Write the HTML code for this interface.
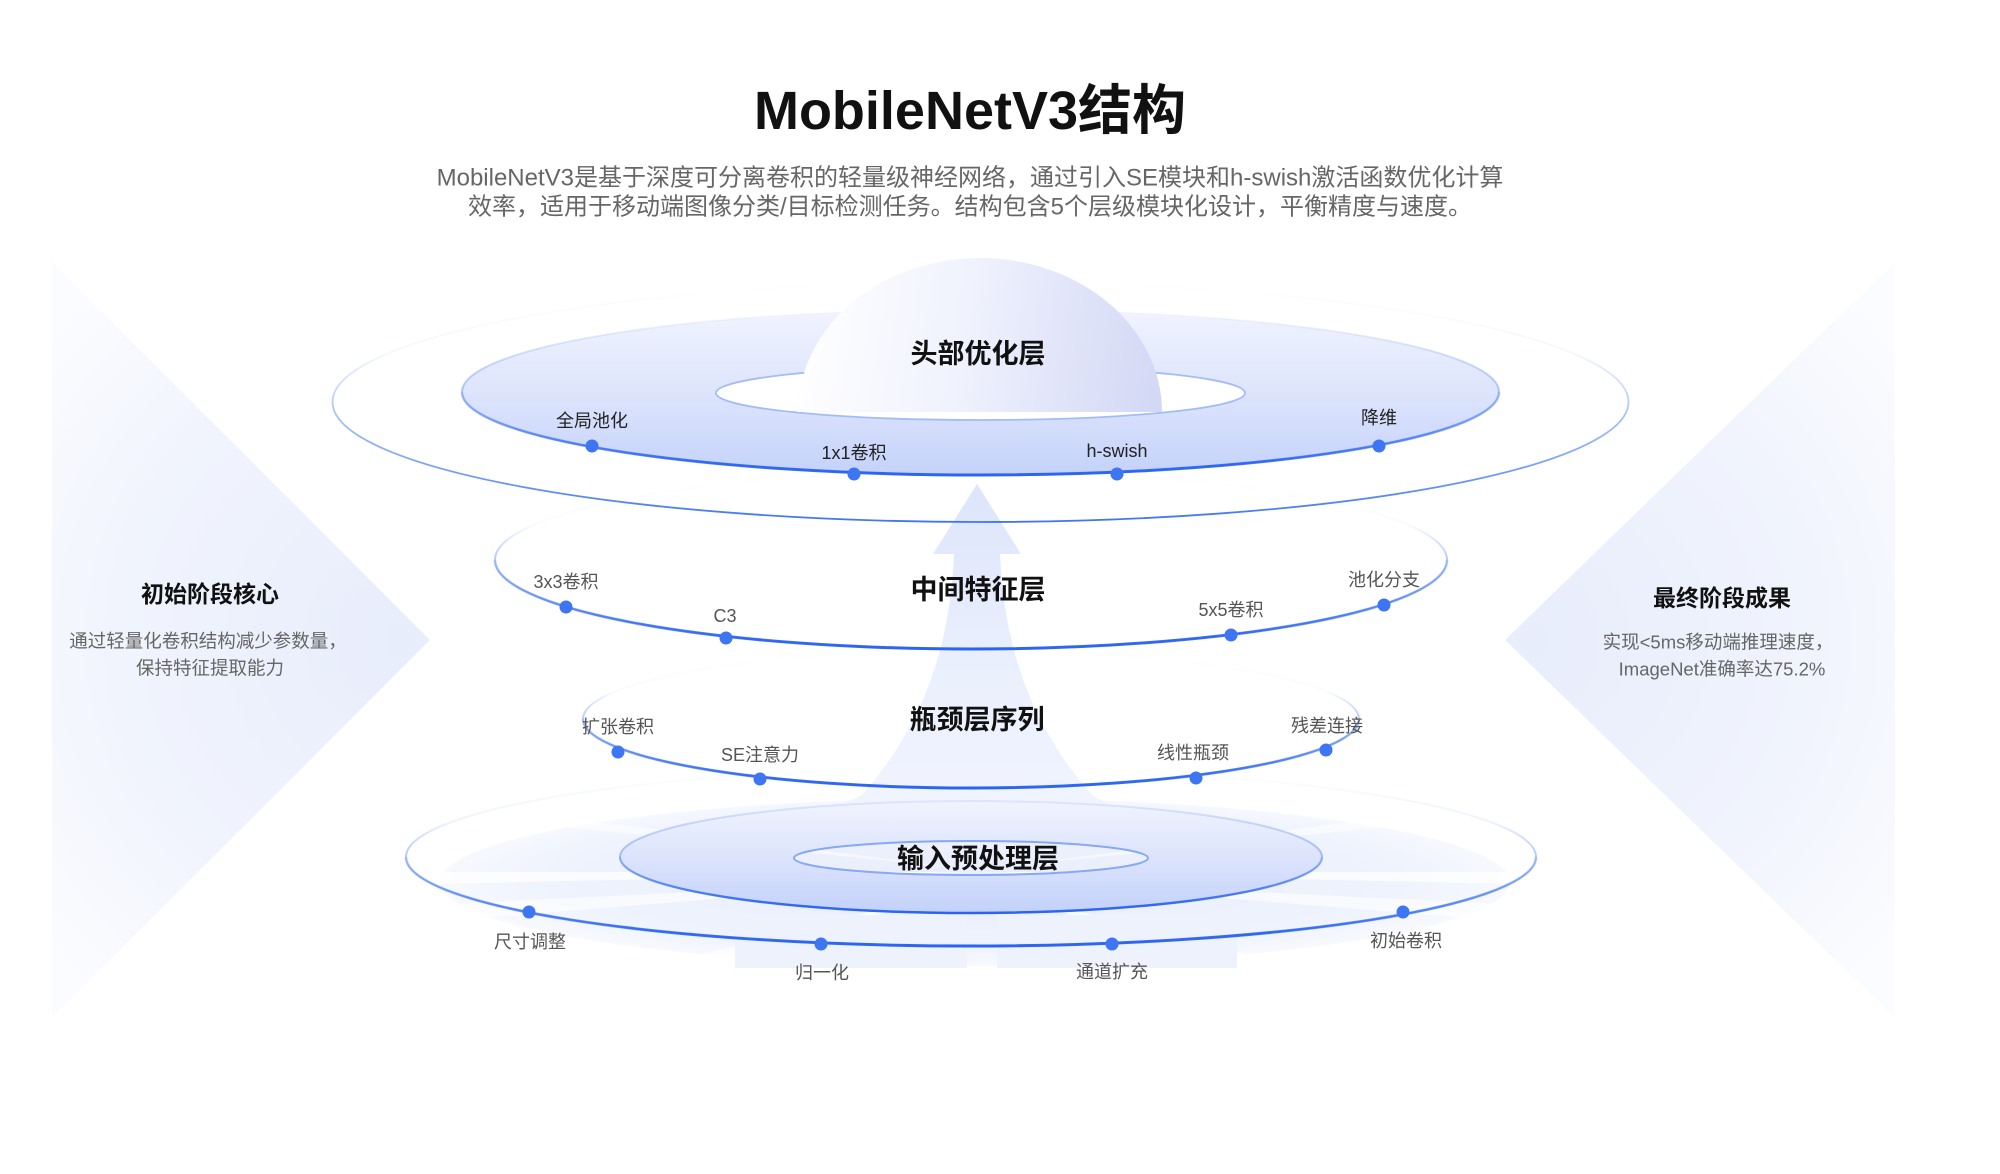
<!DOCTYPE html>
<html><head><meta charset="utf-8">
<style>
html,body{margin:0;padding:0;background:#fff;}
svg{display:block;}
text{font-family:"Liberation Sans","Noto Sans CJK SC",sans-serif;}
</style></head>
<body>
<svg width="2000" height="1174" viewBox="0 0 2000 1174" xmlns="http://www.w3.org/2000/svg">
<defs>
  <radialGradient id="triL" cx="400" cy="640" r="470" gradientUnits="userSpaceOnUse">
    <stop offset="0" stop-color="#e8edfc"/>
    <stop offset="0.6" stop-color="#f1f4fd"/>
    <stop offset="1" stop-color="#fbfcff"/>
  </radialGradient>
  <radialGradient id="triR" cx="1535" cy="640" r="470" gradientUnits="userSpaceOnUse">
    <stop offset="0" stop-color="#e8edfc"/>
    <stop offset="0.6" stop-color="#f1f4fd"/>
    <stop offset="1" stop-color="#fbfcff"/>
  </radialGradient>
  <linearGradient id="beam" x1="0" y1="484" x2="0" y2="830" gradientUnits="userSpaceOnUse">
    <stop offset="0" stop-color="#dde5fb"/>
    <stop offset="0.5" stop-color="#eaeffd"/>
    <stop offset="1" stop-color="#f2f5fe"/>
  </linearGradient>
  <radialGradient id="fan" cx="975" cy="880" r="535" gradientUnits="userSpaceOnUse" gradientTransform="translate(0 880) scale(1 0.16) translate(0 -880)">
    <stop offset="0" stop-color="#e8edfc"/>
    <stop offset="0.8" stop-color="#eff3fd"/>
    <stop offset="1" stop-color="#f7f9fe"/>
  </radialGradient>
  <linearGradient id="ringTop" x1="0" y1="309" x2="0" y2="476" gradientUnits="userSpaceOnUse">
    <stop offset="0" stop-color="#f1f4fe"/>
    <stop offset="0.55" stop-color="#dbe3fc"/>
    <stop offset="1" stop-color="#c4d2fa"/>
  </linearGradient>
  <linearGradient id="ringBot" x1="0" y1="801" x2="0" y2="913" gradientUnits="userSpaceOnUse">
    <stop offset="0" stop-color="#f1f4fe"/>
    <stop offset="0.55" stop-color="#dae2fc"/>
    <stop offset="1" stop-color="#c3d1fa"/>
  </linearGradient>
  <linearGradient id="dome" x1="800" y1="300" x2="1162" y2="360" gradientUnits="userSpaceOnUse">
    <stop offset="0" stop-color="#ffffff"/>
    <stop offset="0.45" stop-color="#f0f2fd"/>
    <stop offset="1" stop-color="#d3d8f5"/>
  </linearGradient>
  <linearGradient id="eTop" x1="0" y1="282" x2="0" y2="522" gradientUnits="userSpaceOnUse">
    <stop offset="0" stop-color="#6f9af5" stop-opacity="0"/>
    <stop offset="0.3" stop-color="#6f9af5" stop-opacity="0.08"/>
    <stop offset="0.55" stop-color="#6f9af5" stop-opacity="0.6"/>
    <stop offset="1" stop-color="#3f76f2" stop-opacity="1"/>
  </linearGradient>
  <linearGradient id="eRing" x1="0" y1="309" x2="0" y2="475" gradientUnits="userSpaceOnUse">
    <stop offset="0" stop-color="#8aabf6" stop-opacity="0"/>
    <stop offset="0.45" stop-color="#8aabf6" stop-opacity="0.6"/>
    <stop offset="1" stop-color="#3f76f2" stop-opacity="1"/>
  </linearGradient>
  <linearGradient id="eMid" x1="0" y1="471" x2="0" y2="649" gradientUnits="userSpaceOnUse">
    <stop offset="0" stop-color="#6f9af5" stop-opacity="0"/>
    <stop offset="0.3" stop-color="#6f9af5" stop-opacity="0.04"/>
    <stop offset="0.55" stop-color="#6f9af5" stop-opacity="0.65"/>
    <stop offset="1" stop-color="#3f76f2" stop-opacity="1"/>
  </linearGradient>
  <linearGradient id="eNeck" x1="0" y1="650" x2="0" y2="788" gradientUnits="userSpaceOnUse">
    <stop offset="0" stop-color="#6f9af5" stop-opacity="0"/>
    <stop offset="0.3" stop-color="#6f9af5" stop-opacity="0.04"/>
    <stop offset="0.55" stop-color="#6f9af5" stop-opacity="0.65"/>
    <stop offset="1" stop-color="#3f76f2" stop-opacity="1"/>
  </linearGradient>
  <linearGradient id="eBotOut" x1="0" y1="768" x2="0" y2="946" gradientUnits="userSpaceOnUse">
    <stop offset="0" stop-color="#6f9af5" stop-opacity="0"/>
    <stop offset="0.3" stop-color="#6f9af5" stop-opacity="0.12"/>
    <stop offset="0.55" stop-color="#6f9af5" stop-opacity="0.65"/>
    <stop offset="1" stop-color="#3f76f2" stop-opacity="1"/>
  </linearGradient>
  <linearGradient id="eBotRing" x1="0" y1="801" x2="0" y2="913" gradientUnits="userSpaceOnUse">
    <stop offset="0" stop-color="#8aabf6" stop-opacity="0.2"/>
    <stop offset="0.45" stop-color="#8aabf6" stop-opacity="0.7"/>
    <stop offset="1" stop-color="#3f76f2" stop-opacity="1"/>
  </linearGradient>
  <linearGradient id="arcH" x1="0" y1="0" x2="1" y2="0">
    <stop offset="0" stop-color="#2a64f0" stop-opacity="0.15"/>
    <stop offset="0.25" stop-color="#2a64f0" stop-opacity="0.85"/>
    <stop offset="0.5" stop-color="#2a64f0" stop-opacity="1"/>
    <stop offset="0.75" stop-color="#2a64f0" stop-opacity="0.85"/>
    <stop offset="1" stop-color="#2a64f0" stop-opacity="0.15"/>
  </linearGradient>
  <clipPath id="fanClip"><ellipse cx="975" cy="882" rx="535" ry="84"/></clipPath>
</defs>

<rect width="2000" height="1174" fill="#fff"/>

<polygon points="52,262 430,640 52,1018" fill="url(#triL)"/>
<polygon points="1895,262 1505,640 1895,1018" fill="url(#triR)"/>

<text x="970" y="111" font-size="54" font-weight="bold" fill="#111" text-anchor="middle" dominant-baseline="central">MobileNetV3结构</text>
<text x="970" y="178" font-size="24" fill="#666" text-anchor="middle" dominant-baseline="central">MobileNetV3是基于深度可分离卷积的轻量级神经网络，通过引入SE模块和h-swish激活函数优化计算</text>
<text x="970" y="207" font-size="24" fill="#666" text-anchor="middle" dominant-baseline="central">效率，适用于移动端图像分类/目标检测任务。结构包含5个层级模块化设计，平衡精度与速度。</text>

<g clip-path="url(#fanClip)">
  <ellipse cx="975" cy="882" rx="535" ry="84" fill="url(#fan)"/>
  <polygon points="975,872 430,872 430,884" fill="#fff" opacity="0.75"/>
  <polygon points="975,872 1520,872 1520,884" fill="#fff" opacity="0.75"/>
  <polygon points="975,878 430,905 430,922" fill="#fff" opacity="0.6"/>
  <polygon points="975,878 1520,905 1520,922" fill="#fff" opacity="0.6"/>
  <polygon points="975,870 500,820 520,812" fill="#fff" opacity="0.5"/>
  <polygon points="975,870 1450,820 1430,812" fill="#fff" opacity="0.5"/>
  <polygon points="975,885 640,970 700,970" fill="#fff" opacity="0.65"/>
  <polygon points="975,885 1310,970 1250,970" fill="#fff" opacity="0.65"/>
</g>

<path d="M977 484 L1021 554 L1000 554 C1004 640 1026 720 1092 795 L1160 830 L790 830 L862 795 C928 720 950 640 954 554 L933 554 Z" fill="url(#beam)"/>
<rect x="735" y="915" width="232" height="53" fill="#eef2fd"/>
<rect x="997" y="915" width="240" height="53" fill="#eef2fd"/>

<ellipse cx="971" cy="857" rx="565" ry="89" fill="none" stroke="url(#eBotOut)" stroke-width="2"/>
<path d="M406 857 A565 89 0 0 0 1536 857" fill="none" stroke="url(#arcH)" stroke-width="3"/>
<path fill-rule="evenodd" fill="url(#ringBot)" d="M620 857 A351 56 0 1 0 1322 857 A351 56 0 1 0 620 857 Z M794 858 A177 17 0 1 0 1148 858 A177 17 0 1 0 794 858 Z"/>
<ellipse cx="971" cy="857" rx="351" ry="56" fill="none" stroke="url(#eBotRing)" stroke-width="2"/>
<path d="M620 857 A351 56 0 0 0 1322 857" fill="none" stroke="url(#arcH)" stroke-width="2.5"/>
<ellipse cx="971" cy="858" rx="177" ry="17" fill="none" stroke="#86a8f5" stroke-width="2"/>

<ellipse cx="971" cy="719" rx="388" ry="69" fill="none" stroke="url(#eNeck)" stroke-width="2"/>
<path d="M583 719 A388 69 0 0 0 1359 719" fill="none" stroke="url(#arcH)" stroke-width="3"/>

<ellipse cx="971" cy="560" rx="476" ry="89" fill="none" stroke="url(#eMid)" stroke-width="2"/>
<path d="M495 560 A476 89 0 0 0 1447 560" fill="none" stroke="url(#arcH)" stroke-width="3"/>

<ellipse cx="980.5" cy="402" rx="648" ry="120" fill="none" stroke="url(#eTop)" stroke-width="1.8"/>
<path fill-rule="evenodd" fill="url(#ringTop)" d="M462 392 A518.5 83 0 1 0 1499 392 A518.5 83 0 1 0 462 392 Z M716 393 A264.5 27 0 1 0 1245 393 A264.5 27 0 1 0 716 393 Z"/>
<ellipse cx="980.5" cy="392" rx="518.5" ry="83" fill="none" stroke="url(#eRing)" stroke-width="2"/>
<path d="M462 392 A518.5 83 0 0 0 1499 392" fill="none" stroke="url(#arcH)" stroke-width="3"/>
<ellipse cx="980.5" cy="393" rx="264.5" ry="27" fill="none" stroke="#a3bbf7" stroke-width="1.8"/>
<path d="M798 412 A182 154 0 0 1 1162 412 Z" fill="url(#dome)"/>

<g fill="#3d75f3">
  <circle cx="592" cy="446" r="6.5"/><circle cx="854" cy="474" r="6.5"/><circle cx="1117" cy="474" r="6.5"/><circle cx="1379" cy="446" r="6.5"/>
  <circle cx="566" cy="607" r="6.5"/><circle cx="726" cy="638" r="6.5"/><circle cx="1231" cy="635" r="6.5"/><circle cx="1384" cy="605" r="6.5"/>
  <circle cx="618" cy="752" r="6.5"/><circle cx="760" cy="779" r="6.5"/><circle cx="1196" cy="778" r="6.5"/><circle cx="1326" cy="750" r="6.5"/>
  <circle cx="529" cy="912" r="6.5"/><circle cx="821" cy="944" r="6.5"/><circle cx="1112" cy="944" r="6.5"/><circle cx="1403" cy="912" r="6.5"/>
</g>

<g font-size="27" font-weight="bold" fill="#111" text-anchor="middle" dominant-baseline="central">
  <text x="978" y="354">头部优化层</text>
  <text x="978" y="590">中间特征层</text>
  <text x="977" y="720">瓶颈层序列</text>
  <text x="978" y="859">输入预处理层</text>
</g>

<g font-size="18" text-anchor="middle" dominant-baseline="central">
  <g fill="#222">
    <text x="592" y="421">全局池化</text>
    <text x="854" y="453">1x1卷积</text>
    <text x="1117" y="451">h-swish</text>
    <text x="1379" y="418">降维</text>
  </g>
  <g fill="#555">
    <text x="566" y="582">3x3卷积</text>
    <text x="725" y="616">C3</text>
    <text x="1231" y="610">5x5卷积</text>
    <text x="1384" y="580">池化分支</text>
    <text x="618" y="727">扩张卷积</text>
    <text x="760" y="755">SE注意力</text>
    <text x="1193" y="753">线性瓶颈</text>
    <text x="1327" y="726">残差连接</text>
    <text x="530" y="942">尺寸调整</text>
    <text x="822" y="973">归一化</text>
    <text x="1112" y="972">通道扩充</text>
    <text x="1406" y="941">初始卷积</text>
  </g>
</g>

<text x="210" y="594" font-size="23" font-weight="bold" fill="#111" text-anchor="middle" dominant-baseline="central">初始阶段核心</text>
<text x="208" y="641" font-size="18.5" fill="#666" text-anchor="middle" dominant-baseline="central">通过轻量化卷积结构减少参数量，</text>
<text x="210" y="668" font-size="18.5" fill="#666" text-anchor="middle" dominant-baseline="central">保持特征提取能力</text>

<text x="1722" y="598" font-size="23" font-weight="bold" fill="#111" text-anchor="middle" dominant-baseline="central">最终阶段成果</text>
<text x="1718" y="642" font-size="18.5" fill="#666" text-anchor="middle" dominant-baseline="central">实现&lt;5ms移动端推理速度，</text>
<text x="1722" y="669" font-size="18.5" fill="#666" text-anchor="middle" dominant-baseline="central">ImageNet准确率达75.2%</text>
</svg>
</body></html>
